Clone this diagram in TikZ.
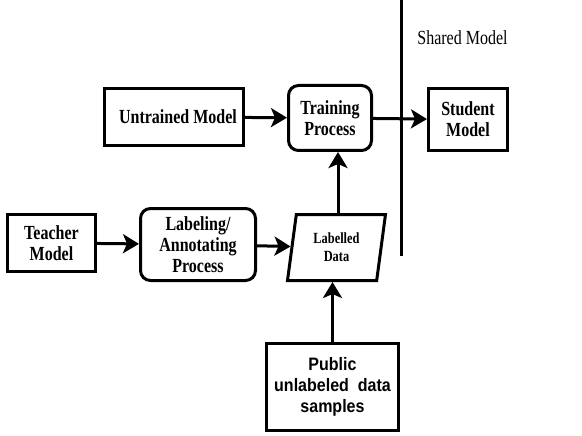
\documentclass[tikz,border=0pt]{standalone}
\usepackage{fontspec}
\setmainfont{Liberation Serif}
\newfontfamily\boxfont[FakeStretch=0.8]{Liberation Serif}
\newfontfamily\arialfont[FakeStretch=0.89]{Liberation Sans}
\usetikzlibrary{shapes.geometric, arrows.meta, positioning}
\tikzset{
  box/.style={
    rectangle, draw=black, line width=3pt,
    align=center, inner sep=2pt,
    font=\boxfont\fontsize{20}{21}\selectfont\bfseries
  },
  plainBox/.style={box},
  roundBox/.style={box, rounded corners=10pt},
  dataBox/.style={
    box, trapezium, trapezium left angle=75, trapezium right angle=105,
    trapezium stretches body,
    font=\boxfont\fontsize{15.5}{18}\selectfont\bfseries
  },
  arr/.style={
    -{Stealth[length=16pt, width=19pt, inset=4pt]}, line width=3pt
  },
  label/.style={font=\boxfont\fontsize{20}{21}\selectfont}
}

\begin{document}
\begin{tikzpicture}[x=1pt, y=-1pt]
  \useasboundingbox (0,0) rectangle (582,436);

  % top row
  \node[plainBox, minimum width=139pt, minimum height=57pt] (untrained) at (174,117) {\hspace{8pt}Untrained Model};
  \node[roundBox, minimum width=83pt, minimum height=65pt] (training) at (330,118) {Training\\Process};
  \node[plainBox, minimum width=79pt, minimum height=62pt] (student) at (468,119.5) {Student\\Model};

  % bottom row
  \node[plainBox, minimum width=88pt, minimum height=57pt] (teacher) at (51.5,243) {Teacher\\Model};
  \node[roundBox, minimum width=115pt, minimum height=72pt] (labeling) at (198,244.5) {Labeling/\\Annotating\\Process};
  \node[dataBox, minimum width=98pt, minimum height=66pt] (labelled) at (336.5,247.5) {Labelled\\Data};
  \node[plainBox, minimum width=132pt, minimum height=87pt, font=\arialfont\fontsize{18}{21}\selectfont\bfseries] (public) at (332.5,387) {Public\\unlabeled\ \ data\\samples};

  % shared model divider
  \coordinate (divTop) at (401,0);
  \coordinate (divBot) at (401,256);
  \draw[line width=3pt] (divTop) -- (divBot);
  \node[label] (shared) at (462.5,38) {Shared Model};

  % flows
  \draw[arr] (untrained) -- (training);
  \draw[arr] (training) -- (student);
  \draw[arr] (teacher) -- (labeling);
  \draw[arr] (labeling) -- (labelled);
  \draw[arr] ([xshift=1.5pt]labelled.north) -- ([xshift=1.5pt]labelled.north |- training.south);
  \draw[arr] (public.north) -- (public.north |- labelled.south);

\end{tikzpicture}
\end{document}
